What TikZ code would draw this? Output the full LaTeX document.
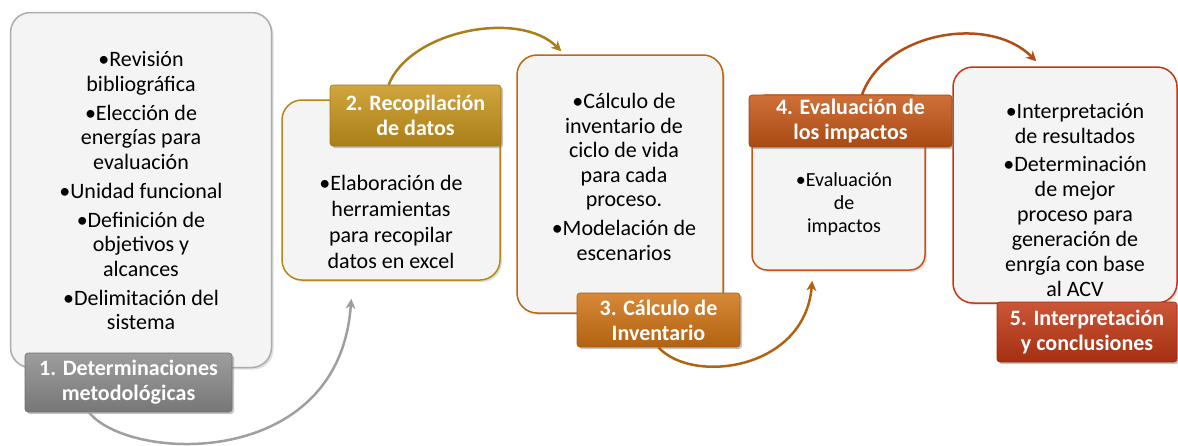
\documentclass[tikz,border=0pt]{standalone}
\usepackage{fontspec}
\setmainfont{Carlito}
\usetikzlibrary{calc,shadows,arrows.meta}

\definecolor{fondo}{HTML}{F4F4F4}
\definecolor{gris}{HTML}{8C8C8C}
\definecolor{oro}{HTML}{C9951C}
\definecolor{naranja}{HTML}{D07414}
\definecolor{teja}{HTML}{C75616}
\definecolor{rojo}{HTML}{C23814}

\begin{document}
\begin{tikzpicture}[x=1pt, y=-1pt,
    every node/.style={align=center, inner sep=0pt},
    caja/.style={draw=#1, line width=1.5pt, rounded corners=20pt, fill=fondo,
        drop shadow={opacity=0.25, shadow xshift=2pt, shadow yshift=-2pt}},
    etiqueta/.style={rounded corners=3pt, draw=#1!80!black, line width=0.6pt,
        top color=#1!85!white, bottom color=#1!85!black,
        text=white, font=\fontsize{22}{25}\selectfont\bfseries,
        drop shadow={opacity=0.45, shadow xshift=2pt, shadow yshift=-2pt}},
    texto/.style={font=\fontsize{22}{24.5}\selectfont},
    flecha/.style={draw=#1, line width=2.5pt, -{Stealth[length=10pt, width=10pt, inset=3pt]}}
]
\useasboundingbox (0,0) rectangle (1178,445);

% Cajas
\node[caja=gray!65, minimum width=261pt, minimum height=355pt] (caja1) at (141,190) {};
\node[caja=oro!90!black, minimum width=218pt, minimum height=180pt] (caja2) at (391,190) {};
\node[caja=naranja!90!black, minimum width=206pt, minimum height=258pt] (caja3) at (620,184) {};
\node[caja=teja, rounded corners=15pt, minimum width=173pt, minimum height=175pt] (caja4) at (838.5,182.5) {};
\node[caja=rojo, minimum width=224pt, minimum height=236pt] (caja5) at (1065,185) {};

% Textos
\node[texto] (t1) at (141,191) {•Revisión\\bibliográfica\\[4.5pt]
•Elección de\\energías para\\evaluación\\[4.5pt]
•Unidad funcional\\[4.5pt]
•Definición de\\objetivos y\\alcances\\[4.5pt]
•Delimitación del\\sistema};
\node[texto, font=\fontsize{22}{25.8}\selectfont] (t2) at (391,222) {•Elaboración de\\herramientas\\para recopilar\\datos en excel};
\node[texto] (t3) at (624,177) {•Cálculo de\\inventario de\\ciclo de vida\\para cada\\proceso.\\[4.5pt]
•Modelación de\\escenarios};
\node[texto, font=\fontsize{20}{23}\selectfont] (t4) at (844,204) {•Evaluación\\de\\impactos};
\node[texto, font=\fontsize{22}{25}\selectfont] (t5) at (1075,200) {•Interpretación\\de resultados\\[3pt]
•Determinación\\de mejor\\proceso para\\generación de\\enrgía con base\\al ACV};

% Etiquetas
\node[etiqueta=gris, minimum width=207pt, minimum height=59pt] (et1) at (128.5,382.5) {1. Determinaciones\\metodológicas};
\node[etiqueta=oro, minimum width=171pt, minimum height=61pt] (et2) at (415.5,115.5) {2. Recopilación\\de datos};
\node[etiqueta=naranja, minimum width=163pt, minimum height=54pt] (et3) at (658.5,320) {3. Cálculo de\\Inventario};
\node[etiqueta=teja, minimum width=203pt, minimum height=52pt] (et4) at (850.5,121) {4. Evaluación de\\los impactos};
\node[etiqueta=rojo, minimum width=180pt, minimum height=60pt] (et5) at (1087,332) {5. Interpretación\\y conclusiones};

% Flechas
\draw[flecha=gray!75] (et1.217) .. controls +(40,50) and +(-12,172) .. ($(caja2.south west)+(70,18)$);
\draw[flecha=oro!85!black] ($(et2.north west)+(59,0)$) .. controls +(21,-54) and +(-42,-42) .. ($(caja3.north west)+(45,-3)$);
\draw[flecha=naranja!85!black] (et3.south) .. controls +(33,37) and +(-8,90) .. ($(caja4.south west)+(61,10)$);
\draw[flecha=teja!90!black] ($(et4.north)+(11.5,0)$) .. controls +(23,-63) and +(-47,-47) .. ($(caja5.north west)+(84,-5)$);

\end{tikzpicture}
\end{document}
